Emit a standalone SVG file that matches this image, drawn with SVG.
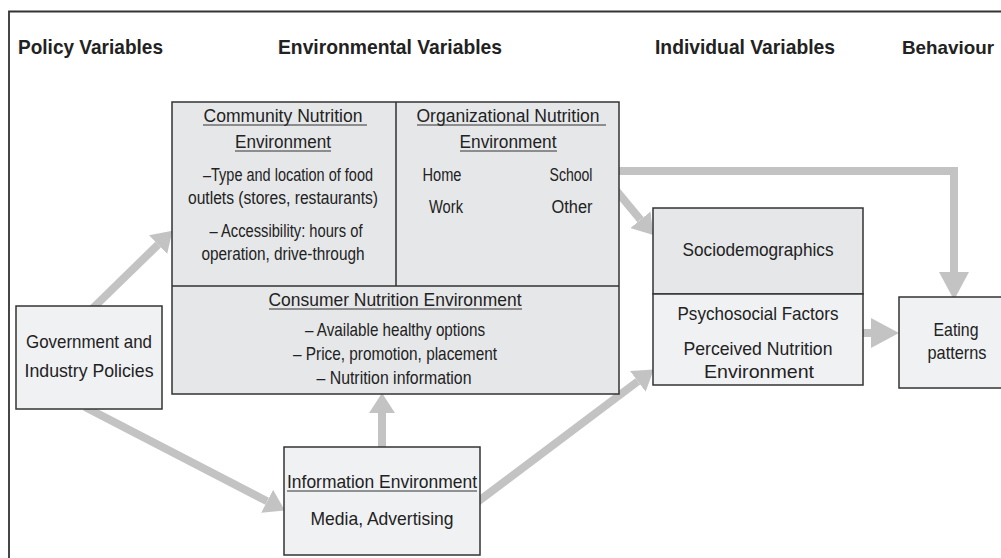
<svg xmlns="http://www.w3.org/2000/svg" width="1001" height="558" viewBox="0 0 1001 558">
<style>
.t{font-family:"Liberation Sans",Arial,sans-serif;fill:#222;text-anchor:middle;}
.h{font-size:21px;font-weight:bold;text-anchor:start;}
.b{font-size:19px;}
.s{font-size:17.5px;}
.box{stroke:#333;stroke-width:1.5;}
.dk{fill:#e6e7e9;}
.lt{fill:#f0f1f3;}
.ul{stroke:#333;stroke-width:1;}
.ar{fill:none;stroke:#c3c3c3;stroke-width:8;}
</style>
<defs>
<marker id="ah" markerUnits="userSpaceOnUse" markerWidth="20" markerHeight="26" viewBox="0 0 20 26" refX="0" refY="13" orient="auto">
<path d="M0,0 L20,13 L0,26 z" fill="#c3c3c3"/>
</marker>
<marker id="ahb" markerUnits="userSpaceOnUse" markerWidth="28" markerHeight="30" viewBox="0 0 28 30" refX="0" refY="15" orient="auto">
<path d="M0,0 L28,15 L0,30 z" fill="#c3c3c3"/>
</marker>
</defs>
<rect width="1001" height="558" fill="#fff"/>
<g id="frame" fill="none" stroke="#333" stroke-width="1.8">
<path d="M9,558 V11.5 H1001"/>
</g>
<g id="headers" class="t h">
<text x="18" y="54" textLength="145" lengthAdjust="spacingAndGlyphs">Policy Variables</text>
<text x="278" y="54" textLength="224" lengthAdjust="spacingAndGlyphs">Environmental Variables</text>
<text x="655" y="54" textLength="180" lengthAdjust="spacingAndGlyphs">Individual Variables</text>
<text x="902" y="54" style="font-size:19px" textLength="92" lengthAdjust="spacingAndGlyphs">Behaviour</text>
</g>
<g id="connectors">
<path class="ar" d="M92,309 L158.1,244.6" marker-end="url(#ah)"/>
<path class="ar" d="M85,407 L267.1,501.3" marker-end="url(#ah)"/>
<path class="ar" d="M476,503 L637.8,381.4" marker-end="url(#ah)"/>
<path class="ar" d="M382,449 V413" marker-end="url(#ah)"/>
<path class="ar" d="M615,189 L640.5,219.7" marker-end="url(#ah)"/>
<path class="ar" d="M619,171 H954 V272" marker-end="url(#ahb)"/>
<path class="ar" d="M862,333 H871" marker-end="url(#ahb)"/>
</g>
<g id="environment">
<rect class="box dk" x="172" y="102" width="447" height="292"/>
<path class="box" d="M396,102 V286 M172,286 H619" fill="none"/>
</g>
<g id="community" class="t s">
<text x="283" y="122" textLength="159" lengthAdjust="spacingAndGlyphs">Community Nutrition</text>
<line class="ul" x1="203" y1="125" x2="367" y2="125"/>
<text x="283" y="148" textLength="96" lengthAdjust="spacingAndGlyphs">Environment</text>
<line class="ul" x1="235" y1="151" x2="331" y2="151"/>
<text x="288" y="181" textLength="170" lengthAdjust="spacingAndGlyphs">–Type and location of food</text>
<text x="283" y="204" textLength="190" lengthAdjust="spacingAndGlyphs">outlets (stores, restaurants)</text>
<text x="286" y="237" textLength="153" lengthAdjust="spacingAndGlyphs">– Accessibility: hours of</text>
<text x="283" y="260" textLength="163" lengthAdjust="spacingAndGlyphs">operation, drive-through</text>
</g>
<g id="organizational" class="t s">
<text x="508" y="122" textLength="183" lengthAdjust="spacingAndGlyphs">Organizational Nutrition</text>
<line class="ul" x1="417" y1="125" x2="606" y2="125"/>
<text x="508" y="148" textLength="97" lengthAdjust="spacingAndGlyphs">Environment</text>
<line class="ul" x1="460" y1="151" x2="557" y2="151"/>
<text x="442" y="181" textLength="39" lengthAdjust="spacingAndGlyphs">Home</text>
<text x="571" y="181" textLength="43" lengthAdjust="spacingAndGlyphs">School</text>
<text x="446" y="213" textLength="34" lengthAdjust="spacingAndGlyphs">Work</text>
<text x="572" y="213" textLength="41" lengthAdjust="spacingAndGlyphs">Other</text>
</g>
<g id="consumer" class="t b">
<text x="395" y="306" textLength="253" lengthAdjust="spacingAndGlyphs">Consumer Nutrition Environment</text>
<line class="ul" x1="269" y1="309" x2="522" y2="309"/>
<text x="395" y="336" textLength="180" lengthAdjust="spacingAndGlyphs">– Available healthy options</text>
<text x="395" y="360" textLength="204" lengthAdjust="spacingAndGlyphs">– Price, promotion, placement</text>
<text x="394" y="384" textLength="155" lengthAdjust="spacingAndGlyphs">– Nutrition information</text>
</g>
<g id="government" class="t b">
<rect class="box lt" x="16" y="306" width="146" height="103"/>
<text x="89" y="348" textLength="126" lengthAdjust="spacingAndGlyphs">Government and</text>
<text x="89" y="377" textLength="129" lengthAdjust="spacingAndGlyphs">Industry Policies</text>
</g>
<g id="information" class="t b">
<rect class="box lt" x="284" y="447" width="196" height="108"/>
<text x="382" y="488" textLength="190" lengthAdjust="spacingAndGlyphs">Information Environment</text>
<line class="ul" x1="287" y1="491" x2="477" y2="491"/>
<text x="382" y="525" textLength="143" lengthAdjust="spacingAndGlyphs">Media, Advertising</text>
</g>
<g id="sociodemographics" class="t b">
<rect class="box dk" x="653" y="208" width="210" height="86"/>
<text x="758" y="256" textLength="151" lengthAdjust="spacingAndGlyphs">Sociodemographics</text>
</g>
<g id="psychosocial" class="t b">
<rect class="box lt" x="653" y="294" width="210" height="91"/>
<text x="758" y="320" textLength="161" lengthAdjust="spacingAndGlyphs">Psychosocial Factors</text>
<text x="758" y="355" textLength="149" lengthAdjust="spacingAndGlyphs">Perceived Nutrition</text>
<text x="759" y="378" textLength="110" lengthAdjust="spacingAndGlyphs">Environment</text>
</g>
<g id="eating" class="t b">
<rect class="box lt" x="899" y="297" width="120" height="91"/>
<text x="956" y="336" textLength="45" lengthAdjust="spacingAndGlyphs">Eating</text>
<text x="957" y="359" textLength="59" lengthAdjust="spacingAndGlyphs">patterns</text>
</g>
</svg>
